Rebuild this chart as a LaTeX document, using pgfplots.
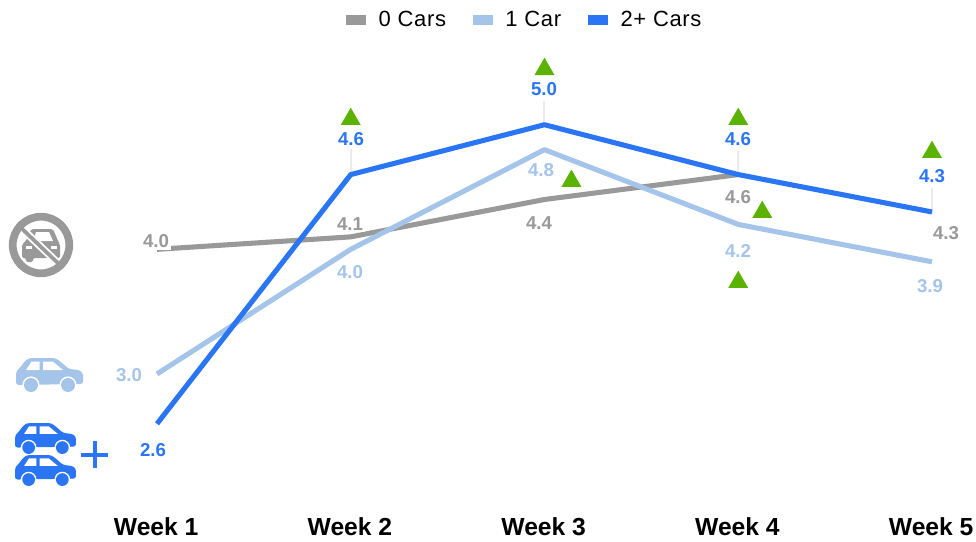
\documentclass[border=0pt]{standalone}
\usepackage{pgfplots}
\usepackage{fontspec}
\pgfplotsset{compat=1.18}
\setmainfont{Liberation Sans}
\newfontfamily\legendfont[LetterSpace=3]{Liberation Sans}
\definecolor{nocar}{HTML}{999999}
\definecolor{onecar}{HTML}{A4C4EA}
\definecolor{twocars}{HTML}{2A75F3}
\definecolor{flag}{HTML}{5CB200}
\definecolor{leader}{HTML}{EBEBEB}

\tikzset{
  px/.style={x=0.75pt,y=-0.75pt},
  val/.style={font=\fontsize{14}{16}\selectfont\bfseries,inner sep=0pt},
}

% Side view of a hatchback; the local box is 67 wide and 34 high.
\newcommand{\sidecar}[4]{%
  \begin{scope}[shift={(#1,#2)},scale=#3]
    \fill[#4,rounded corners=2] (0,27) -- (0,14) -- (2.5,11.5) -- (10,2) -- (14,0) -- (38,0) -- (42,1.5)
      -- (53,11) -- (63,12) -- (67,15) -- (67,26) -- cycle;
    \fill[white] (10,12) -- (15.5,3.6) -- (23.5,3.6) -- (23.5,12) -- cycle;
    \fill[white] (27,3.6) -- (37,3.6) -- (47,12) -- (27,12) -- cycle;
    \fill[white] (15,27) circle (8.6);
    \fill[white] (52,27) circle (8.6);
    \fill[#4] (15,27) circle (7);
    \fill[#4] (52,27) circle (7);
  \end{scope}}

\begin{document}
\begin{tikzpicture}
\useasboundingbox[px] (0,0) rectangle (976,542);
\begin{axis}[
  at={(0pt,-382.5pt)}, anchor=south west,
  scale only axis, width=732pt, height=382.5pt,
  xmin=0.1897, xmax=5.2271, ymin=1.908, ymax=6.001,
  clip=false,
  axis line style={draw=none},
  major tick length=0pt,
  ytick=\empty,
  xtick={1,2,3,4,5},
  xticklabels={Week 1,Week 2,Week 3,Week 4,Week 5},
  xticklabel style={font=\fontsize{18.5}{20}\selectfont\bfseries,yshift=-2.7pt,xshift=-0.6pt,text height=13pt,text depth=0pt},
  legend columns=3,
  legend style={at={(0.538,0.961)},anchor=center,draw=none,fill=none,
    font=\fontsize{16.5}{18}\selectfont\legendfont,
    /tikz/every even column/.append style={column sep=18pt},
    inner sep=0pt},
  legend image code/.code={\fill[#1,draw=none] (0pt,-3.75pt) rectangle (15pt,3.75pt);
    \path[draw=none] (15pt,0pt) -- (22.5pt,0pt);},
]
% thin leaders between the top series and its value labels
\addplot[leader,line width=1.5pt,forget plot,unbounded coords=jump] coordinates {
  (2,4.6) (2,4.807) (3,nan) (3,5.0) (3,5.193) (4,nan)
  (4,4.6) (4,4.793) (5,nan) (5,4.3) (5,4.494)};
\addplot[nocar,line width=3.8pt,line join=round] coordinates {(1,4.0) (2,4.1) (3,4.4) (4,4.6)};
\addlegendentry{0 Cars}
\addplot[onecar,line width=3.8pt,line join=round] coordinates {(1,3.0) (2,4.0) (3,4.8) (4,4.2) (5,3.9)};
\addlegendentry{1 Car}
\addplot[twocars,line width=3.8pt,line join=round] coordinates {(1,2.6) (2,4.6) (3,5.0) (4,4.6) (5,4.3)};
\addlegendentry{2+ Cars}
% week-over-week increase flags
\addplot[only marks,forget plot,color=flag,mark=triangle*,mark size=8.4pt,
  mark options={solid,fill=flag,draw=flag,line width=0.2pt}] coordinates {
  (2,5.044) (3,5.445) (3.139,4.547) (4,5.044) (4.124,4.298) (4,3.736) (5,4.779)};
\end{axis}

\begin{scope}[px]
  % value labels
  \node[val,text=nocar,fill=white,inner sep=1.5pt] at (156,241) {4.0};
  \node[val,text=nocar,fill=white,inner sep=1.5pt] at (350,224) {4.1};
  \node[val,text=nocar] at (539,223) {4.4};
  \node[val,text=nocar] at (738,197) {4.6};
  \node[val,text=nocar] at (946,233) {4.3};
  \node[val,text=onecar] at (129,375) {3.0};
  \node[val,text=onecar] at (350,272) {4.0};
  \node[val,text=onecar] at (541,170) {4.8};
  \node[val,text=onecar] at (738,251) {4.2};
  \node[val,text=onecar] at (930,286) {3.9};
  \node[val,text=twocars] at (153,450) {2.6};
  \node[val,text=twocars] at (351,139) {4.6};
  \node[val,text=twocars] at (544,89) {5.0};
  \node[val,text=twocars] at (738,139) {4.6};
  \node[val,text=twocars] at (932,176) {4.3};

  % one-car and two-or-more-car icons
  \sidecar{16}{358}{1}{onecar}
  \sidecar{15}{423}{0.91}{twocars}
  \sidecar{15}{455}{0.91}{twocars}
  \fill[twocars] (81,453) rectangle (108,457);
  \fill[twocars] (92.5,441) rectangle (96.5,468);

  % no-car icon: front view of a car, struck through
  \fill[nocar,rounded corners=1.5] (26,241) -- (31,229) -- (53,229) -- (58,241) -- (60,244) -- (60,258)
    -- (33,258) -- (33,262) -- (26,262) -- (26,258) -- (22,258) -- (22,244) -- cycle;
  \fill[white] (33,241) -- (36,232) -- (49,232) -- (53,241) -- cycle;
  \fill[white] (26,246) rectangle (32,249);
  \fill[white] (51,246) rectangle (57,249);
  \draw[white,line width=5.6pt] (17,224) -- (62,267);
  \draw[nocar,line width=2.8pt] (17,224) -- (62,267);
  \draw[nocar,line width=5.8pt] (41,245) circle (28.3);
\end{scope}
\end{tikzpicture}
\end{document}
